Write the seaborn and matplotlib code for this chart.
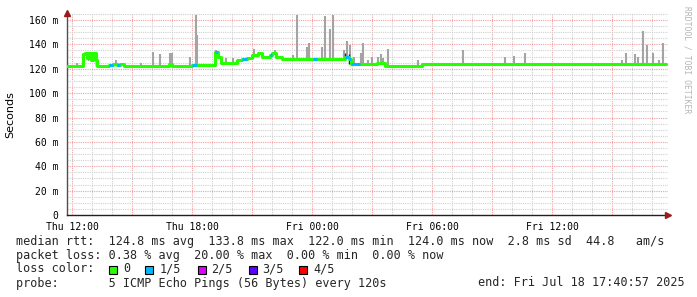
import numpy as np
import pandas as pd
import matplotlib
matplotlib.use("Agg")
import matplotlib.pyplot as plt
from matplotlib.patches import Rectangle
import seaborn as sns

# ---------------- data (hours since Thu 00:00, values in ms) ----------------
seg_start_h = [11.75, 12.55, 12.65, 12.75, 12.85, 12.95, 13.025, 13.2, 13.25,
               13.85, 14.05, 14.25, 14.4, 14.6,
               16.85, 17.0, 18.0, 18.25,
               19.15, 19.3, 19.45,
               20.25, 20.5, 20.75, 21.0, 21.3, 21.5, 21.9, 22.0, 22.2, 22.5,
               24.05, 24.25,
               25.65, 25.85, 25.95, 26.4,
               27.25, 27.65, 29.5]
seg_median = [122, 132, 133, 129, 133, 127, 133, 127, 122,
              123, 124, 123, 124, 122,
              124, 122, 123, 123,
              134, 130, 125,
              127, 128, 129, 131, 133, 130, 131, 133, 130, 128,
              128, 128,
              130, 128, 124, 124,
              125, 122, 124]
seg_loss = [0, 0, 0, 0, 0, 0, 0, 0, 0,
            1, 0, 1, 0, 0,
            0, 0, 1, 0,
            1, 0, 0,
            0, 1, 0, 0, 0, 0, 1, 0, 0, 0,
            1, 0,
            1, 1, 1, 0,
            0, 0, 0]
end_h = 41.7

spike_h = [12.27, 13.25, 14.19, 15.44, 16.07, 16.42, 16.9, 16.98, 17.89, 18.2,
           18.27, 19.19, 19.72, 20.07, 21.12, 21.44, 22.15, 23.04, 23.27, 23.74,
           23.87, 24.52, 24.65, 24.9, 25.04, 25.6, 25.74, 25.9, 26.12, 26.44,
           26.57, 26.79, 27.02, 27.32, 27.45, 27.57, 27.82, 29.32, 31.57, 33.65,
           34.12, 34.65, 39.49, 39.69, 40.15, 40.29, 40.54, 40.74, 41.07, 41.35,
           41.54]
spike_top = [125, 127, 127, 125, 134, 132, 133, 133, 130, 164,
             148, 135, 129, 128.5, 136, 134, 135, 131, 164, 138,
             141, 137.6, 163, 153, 164, 135, 143, 139.5, 130, 132.6,
             141, 127, 130, 130, 132, 128.5, 136, 127, 135, 130,
             130.5, 133, 127, 132.6, 132, 130, 151, 139.5, 133, 127,
             141]

dark_h = [12.55, 12.8, 13.22, 16.9, 19.15, 25.65, 25.85]
dark_low = [122, 127, 122, 122, 122, 128, 124]
dark_high = [133, 133, 133, 125, 134, 133, 132]

loss_colors = ["#26ff00", "#00b8ff", "#dd00ff", "#5e00ff", "#ff0000"]
loss_labels = ["0", "1/5", "2/5", "3/5", "4/5"]

x_tick_pos = [12, 18, 24, 30, 36]
x_tick_labels = ["Thu 12:00", "Thu 18:00", "Fri 00:00", "Fri 06:00", "Fri 12:00"]
y_tick_pos = [0, 20, 40, 60, 80, 100, 120, 140, 160]
y_tick_labels = ["0", "20 m", "40 m", "60 m", "80 m", "100 m", "120 m", "140 m", "160 m"]

line1 = "median rtt:  124.8 ms avg  133.8 ms max  122.0 ms min  124.0 ms now  2.8 ms sd  44.8   am/s"
line2 = "packet loss: 0.38 % avg  20.00 % max  0.00 % min  0.00 % now"
line3 = "loss color:"
line4 = "probe:       5 ICMP Echo Pings (56 Bytes) every 120s"
line4b = "end: Fri Jul 18 17:40:57 2025"
watermark = "RRDTOOL / TOBI OETIKER"

# ---------------- figure ----------------
sns.set_theme(style="white")
plt.rcParams["font.family"] = ["DejaVu Sans Mono", "DejaVu Sans"]

W, H = 697, 297
fig = plt.figure(figsize=(W / 100, H / 100), dpi=100)
fig.patch.set_facecolor("white")
x0, x1 = 67, 668
ybot, ytop = 215, 12.7
ax = fig.add_axes([x0 / W, (H - ybot) / H, (x1 - x0) / W, (ybot - ytop) / H])
ax.set_facecolor("white")
ax.set_xlim(11.75, 41.8)
ax.set_ylim(0, 166)

# grid
for hr in range(12, 42):
    major = hr % 3 == 0
    ax.axvline(hr, color="#f0a0a0" if major else "#d0d0d0",
               lw=0.8, ls=(0, (1, 1)), zorder=0)
for v in range(5, 166, 5):
    major = v % 20 == 0
    ax.axhline(v, color="#f0a0a0" if major else "#d0d0d0",
               lw=0.8, ls=(0, (1, 1)), zorder=0)

# smoke spikes
starts = np.array(seg_start_h)
meds = np.array(seg_median, dtype=float)
idx = np.searchsorted(starts, np.array(spike_h), side="right") - 1
base = meds[np.clip(idx, 0, len(meds) - 1)]
ax.vlines(spike_h, base, spike_top, color="#a4a4a4", lw=1.5, zorder=2)
ax.vlines(dark_h, dark_low, dark_high, color="#2a2a2a", lw=1.0, zorder=3)

# median line (steps)
step_df = pd.DataFrame({"h": seg_start_h + [end_h], "ms": seg_median + [seg_median[-1]]})
sns.lineplot(data=step_df, x="h", y="ms", drawstyle="steps-post", color=loss_colors[0],
             lw=2.2, estimator=None, sort=False, ax=ax, zorder=4)
ends = seg_start_h[1:] + [end_h]
for s, e, m, l in zip(seg_start_h, ends, seg_median, seg_loss):
    if l > 0:
        ax.hlines(m, s, e, color=loss_colors[l], lw=2.2, zorder=5)

# axes styling
for sp in ["top", "right"]:
    ax.spines[sp].set_visible(False)
ax.spines["left"].set_color("#505050")
ax.spines["bottom"].set_color("#202020")
ax.spines["left"].set_linewidth(1.0)
ax.spines["bottom"].set_linewidth(1.0)
ax.set_xticks(x_tick_pos)
ax.set_xticklabels(x_tick_labels)
ax.set_yticks(y_tick_pos)
ax.set_yticklabels(y_tick_labels)
ax.tick_params(axis="both", length=3, width=0.8, color="#505050",
               labelsize=7, labelcolor="black", pad=2, direction="out")
ax.tick_params(axis="y", pad=3)
ax.set_xlabel("")
ax.set_ylabel("")

# arrows
ax.plot([11.75], [166], marker="^", color="#9b1b1b", ms=4, clip_on=False, zorder=6)
ax.plot([41.8], [0], marker=">", color="#9b1b1b", ms=4, clip_on=False, zorder=6)

# labels
fig.text(10 / W, 1 - 115 / H, "Seconds", rotation=90, ha="center", va="center",
         fontsize=8, family=["DejaVu Sans"], color="black")
fig.text(687 / W, 1 - 60 / H, watermark, rotation=-90, ha="center", va="center",
         fontsize=5.8, color="#b5b5b5")

fs = 8.5
fig.text(16 / W, 1 - 241 / H, line1, ha="left", va="center", fontsize=fs)
fig.text(16 / W, 1 - 255 / H, line2, ha="left", va="center", fontsize=fs)
fig.text(16 / W, 1 - 269 / H, line3, ha="left", va="center", fontsize=fs)
fig.text(16 / W, 1 - 283 / H, line4, ha="left", va="center", fontsize=fs)
fig.text(478 / W, 1 - 283 / H, line4b, ha="left", va="center", fontsize=fs)

sq_x = [109, 145, 197.5, 248.5, 299]
lab_x = [123, 160, 211, 262, 313]
for sx, lx, c, lab in zip(sq_x, lab_x, loss_colors, loss_labels):
    fig.add_artist(Rectangle((sx / W, 1 - 273.5 / H), 8 / W, 8 / H,
                             transform=fig.transFigure, facecolor=c,
                             edgecolor="black", lw=0.8))
    fig.text(lx / W, 1 - 269 / H, lab, ha="left", va="center", fontsize=fs)

fig.savefig("out.png", dpi=100, facecolor="white")
